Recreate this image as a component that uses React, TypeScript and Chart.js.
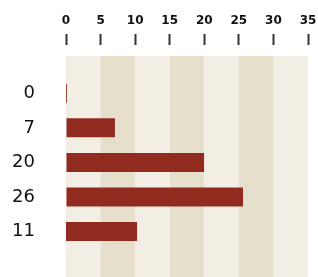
import React, { useEffect, useRef } from "react";
import { Chart, registerables } from "chart.js";

Chart.register(...registerables);

// Category labels (as shown on the left axis)
const categories = ["0", "7", "20", "26", "11"];
// Bar extents (floating bars: start, end)
const barStarts = [-0.15, 0, 0, 0, -0.14];
const barEnds = [0.12, 7.08, 19.97, 25.6, 10.27];
// Value-axis ticks
const xMin = 0;
const xMax = 35;
const xStep = 5;

const BAR_COLOR = "#922b1f";
const BAND_LIGHT = "#f2eee3";
const BAND_DARK = "#e6dfcc";

const bandsPlugin = {
  id: "bands",
  beforeDraw(chart: any) {
    const { ctx, chartArea, scales } = chart;
    const x = scales.x;
    const ticks = x.ticks.map((t: any) => t.value);
    const top = chartArea.top - 20;
    const bottom = chart.height;
    ctx.save();
    for (let i = 0; i < ticks.length - 1; i++) {
      const x1 = x.getPixelForValue(ticks[i]);
      const x2 = x.getPixelForValue(ticks[i + 1]);
      ctx.fillStyle = i % 2 === 0 ? BAND_LIGHT : BAND_DARK;
      ctx.fillRect(x1, top, x2 - x1, bottom - top);
    }
    ctx.restore();
  },
};

export default function App() {
  const ref = useRef<HTMLCanvasElement | null>(null);

  useEffect(() => {
    if (!ref.current) return;
    const chart = new Chart(ref.current, {
      type: "bar",
      data: {
        labels: categories,
        datasets: [
          {
            data: categories.map((_, i) => [barStarts[i], barEnds[i]]) as any,
            backgroundColor: BAR_COLOR,
            borderWidth: 0,
            categoryPercentage: 1,
            barPercentage: 0.55,
          },
        ],
      },
      options: {
        indexAxis: "y",
        animation: false,
        responsive: false,
        devicePixelRatio: 1,
        layout: { padding: { top: 7.6, bottom: 28.2, left: 8, right: 10 } },
        plugins: {
          legend: { display: false },
          tooltip: { enabled: false },
        },
        scales: {
          x: {
            type: "linear",
            position: "top",
            min: xMin,
            max: xMax,
            afterFit: (scale: any) => {
              scale.paddingLeft = 0;
              scale.paddingRight = 0;
            },
            ticks: {
              stepSize: xStep,
              padding: 6,
              color: "#111",
              font: { family: "DejaVu Sans", weight: "bold", size: 12 },
            },
            grid: {
              display: true,
              drawOnChartArea: false,
              drawTicks: true,
              tickLength: 42,
              tickWidth: 2,
              tickColor: "#333",
              tickBorderDash: [11, 100],
            },
            border: { display: false },
          },
          y: {
            type: "category",
            position: "left",
            afterFit: (scale: any) => {
              scale.width = 58;
              scale.paddingTop = 0;
              scale.paddingBottom = 0;
            },
            ticks: {
              padding: 31,
              color: "#111",
              font: { family: "DejaVu Sans", size: 18 },
            },
            grid: { display: false, drawTicks: false },
            border: { display: false },
          },
        },
      },
      plugins: [bandsPlugin],
    });
    return () => chart.destroy();
  }, []);

  return (
    <div style={{ position: "absolute", left: 0, top: 0, width: 318, height: 277 }}>
      <canvas ref={ref} width={318} height={277} />
    </div>
  );
}
